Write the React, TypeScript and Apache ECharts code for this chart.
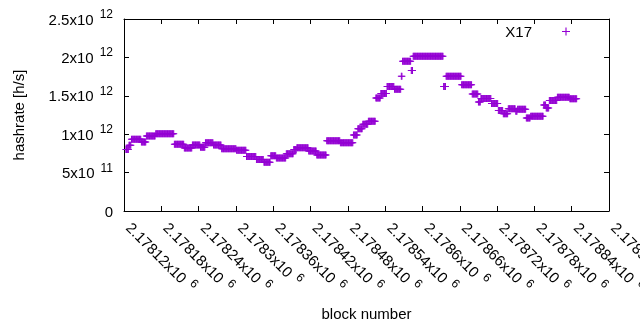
import React, { useEffect, useRef } from "react";
import * as echarts from "echarts";

// ---- data ----
const BLOCK_BASE = 2178120; // block number of offset 0
// runs of consecutive blocks that share the same hashrate estimate
const runStart = [3, 8, 12, 28, 36, 51, 81, 97, 110, 123, 131, 144, 157, 181, 197, 213, 225, 236, 245, 261, 273, 278, 297, 310, 326, 348, 369, 376, 384, 393, 405, 413, 423, 435, 446, 448, 462, 465, 514, 518, 543, 560, 570, 574, 591, 602, 610, 618, 630, 633, 647, 654, 675, 679, 684, 697, 717];
const runEnd = [7, 11, 27, 35, 50, 80, 96, 109, 122, 130, 143, 156, 180, 196, 212, 224, 235, 244, 260, 272, 277, 296, 309, 325, 347, 368, 375, 383, 392, 404, 412, 422, 434, 445, 447, 461, 464, 513, 517, 542, 559, 569, 573, 590, 601, 609, 617, 629, 632, 646, 653, 674, 678, 683, 696, 716, 728];
const runHashrateE12 = [0.80, 0.855, 0.935, 0.90, 0.975, 1.005, 0.87, 0.82, 0.86, 0.83, 0.89, 0.86, 0.81, 0.79, 0.71, 0.67, 0.635, 0.72, 0.69, 0.745, 0.80, 0.825, 0.78, 0.73, 0.915, 0.89, 0.99, 1.07, 1.13, 1.17, 1.47, 1.53, 1.62, 1.585, 1.755, 1.95, 1.83, 2.015, 1.62, 1.755, 1.645, 1.525, 1.42, 1.465, 1.40, 1.31, 1.265, 1.33, 1.30, 1.325, 1.21, 1.235, 1.38, 1.34, 1.44, 1.48, 1.46];

const seriesName = "X17";
const xTitle = "block number";
const yTitle = "hashrate [h/s]";
const X_MIN = 2178120;
const X_MAX = 2178900;
const X_STEP = 60;
const Y_MIN = 0;
const Y_MAX = 2.5e12;
const Y_STEP = 5e11;

const FONT = "Liberation Sans";
const COLOR = "#9400d3";
const PLUS = "path://M3,0H4V7H3ZM0,3H7V4H0Z";

function buildPoints(): [number, number][] {
  const pts: [number, number][] = [];
  for (let i = 0; i < runStart.length; i++) {
    for (let b = runStart[i]; b <= runEnd[i]; b++) {
      pts.push([BLOCK_BASE + b, runHashrateE12[i] * 1e12]);
    }
  }
  return pts;
}

function sci(v: number): string {
  if (v === 0) return "{a|0}";
  const e = Math.floor(Math.log10(Math.abs(v)) + 1e-9);
  const m = parseFloat((v / Math.pow(10, e)).toPrecision(7));
  return `{a|${m}x10}{s|${e}}`;
}

const richY = {
  a: { fontFamily: FONT, fontSize: 15, lineHeight: 22, color: "#000" },
  s: { fontFamily: FONT, fontSize: 12, lineHeight: 12, verticalAlign: "top", color: "#000", padding: [0, 0, 0, 6] },
};
const richX = {
  a: { fontFamily: FONT, fontSize: 15, lineHeight: 22, color: "#000", padding: [0, 0, 0, 7] },
  s: { fontFamily: FONT, fontSize: 12, lineHeight: 12, verticalAlign: "top", color: "#000", padding: [0, 0, 0, 6] },
};

export default function App() {
  const ref = useRef<HTMLDivElement>(null);
  useEffect(() => {
    if (!ref.current) return;
    const chart = echarts.init(ref.current, undefined, { renderer: "svg" });
    const axisLine = { show: true, onZero: false, lineStyle: { color: "#000", width: 1 } };
    const axisTick = { show: true, inside: true, length: 5, lineStyle: { color: "#000", width: 1 } };
    chart.setOption({
      animation: false,
      textStyle: { fontFamily: FONT },
      grid: { left: 124, right: 31, top: 19, bottom: 119, containLabel: false, outerBoundsMode: "none" },
      legend: {
        show: true,
        data: [{ name: seriesName, icon: PLUS }],
        right: 65,
        top: 19,
        align: "right",
        itemWidth: 8,
        itemHeight: 8,
        textStyle: { fontFamily: FONT, fontSize: 15, color: "#000", padding: [0, 25, 0, 0] },
      },
      xAxis: [
        {
          type: "value",
          position: "bottom",
          min: X_MIN,
          max: X_MAX,
          interval: X_STEP,
          axisLine,
          axisTick,
          splitLine: { show: false },
          axisLabel: { rotate: -45, margin: 9, formatter: (v: number) => sci(v), rich: richX },
          name: xTitle,
          nameLocation: "middle",
          nameGap: 95,
          nameTextStyle: { fontFamily: FONT, fontSize: 15, color: "#000" },
        },
        {
          type: "value",
          position: "top",
          min: X_MIN,
          max: X_MAX,
          interval: X_STEP,
          axisLine,
          axisTick,
          splitLine: { show: false },
          axisLabel: { show: false },
        },
      ],
      yAxis: [
        {
          type: "value",
          position: "left",
          min: Y_MIN,
          max: Y_MAX,
          interval: Y_STEP,
          axisLine,
          axisTick,
          splitLine: { show: false },
          axisLabel: { margin: 11, formatter: (v: number) => sci(v), rich: richY },
          name: yTitle,
          nameLocation: "middle",
          nameGap: 98,
          nameTextStyle: { fontFamily: FONT, fontSize: 15, color: "#000" },
        },
        {
          type: "value",
          position: "right",
          min: Y_MIN,
          max: Y_MAX,
          interval: Y_STEP,
          axisLine,
          axisTick,
          splitLine: { show: false },
          axisLabel: { show: false },
        },
      ],
      series: [
        {
          name: seriesName,
          type: "scatter",
          xAxisIndex: 0,
          yAxisIndex: 0,
          data: buildPoints(),
          symbol: PLUS,
          symbolSize: 7,
          itemStyle: { color: COLOR, opacity: 1 },
          emphasis: { disabled: true },
        },
      ],
    });
    return () => chart.dispose();
  }, []);
  return <div ref={ref} style={{ position: "fixed", left: 0, top: 0, width: 640, height: 330 }} />;
}
